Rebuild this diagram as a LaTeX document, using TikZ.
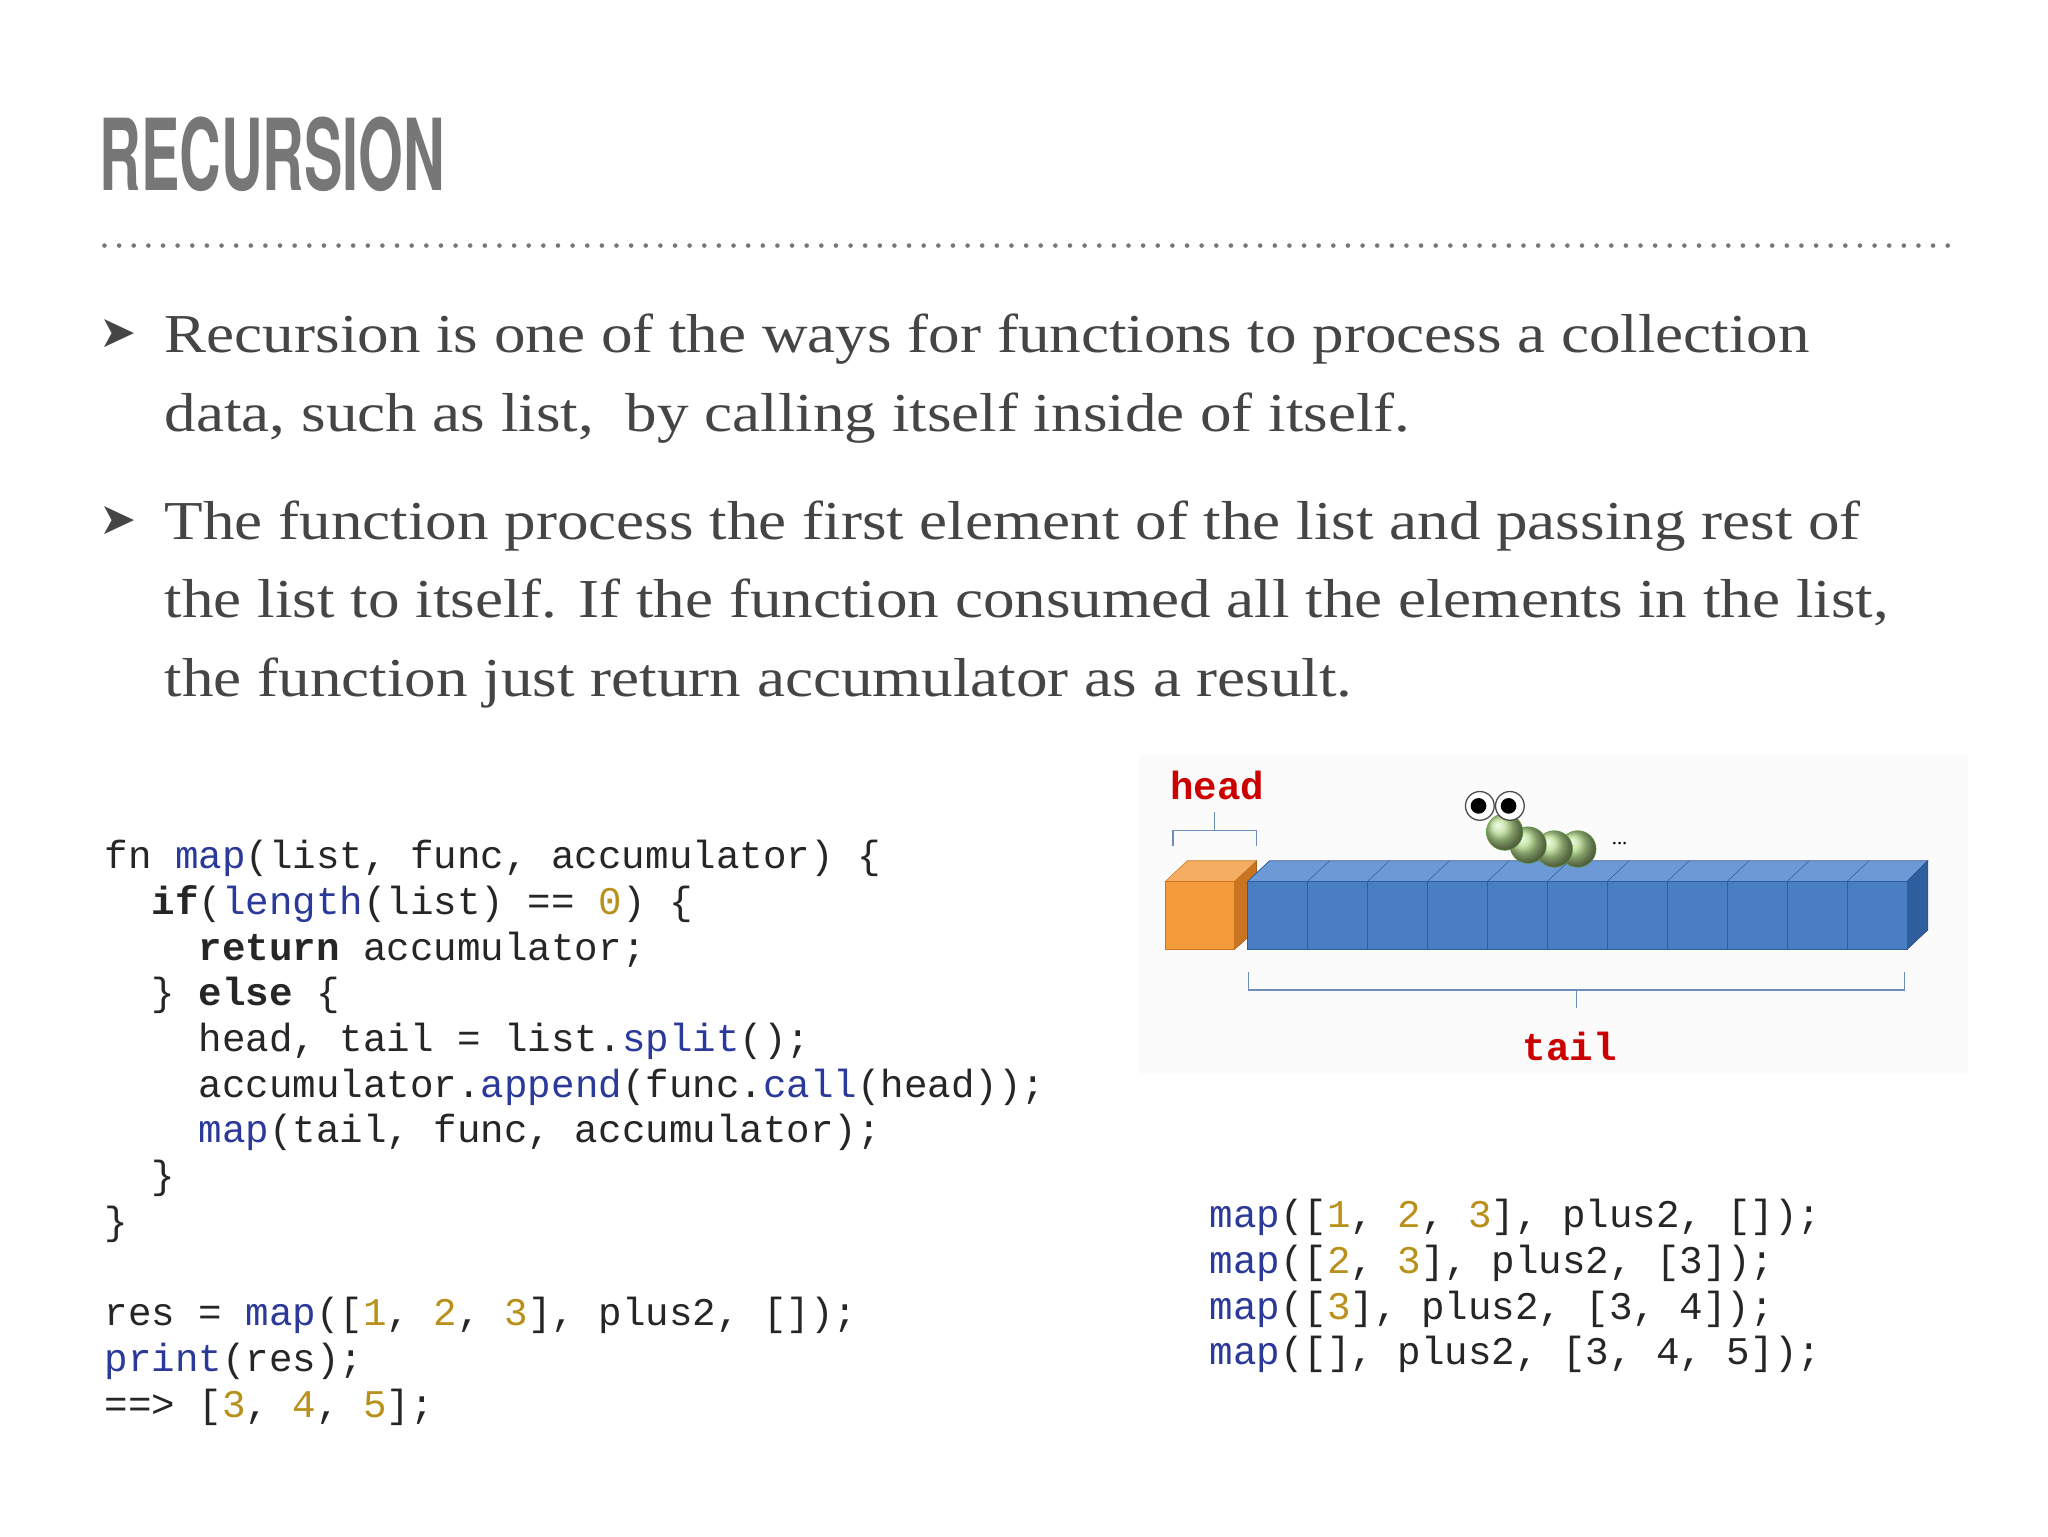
\documentclass[tikz,border=0pt]{standalone}
\usepackage{fontspec}
\setmainfont{Liberation Serif}
\setmonofont{Liberation Mono}
\newfontfamily\bodyfont[FakeStretch=1.15]{Liberation Serif}
\newfontfamily\titlefont{TeX Gyre Heros}
\newfontfamily\symfont{DejaVu Sans}
\definecolor{txt}{HTML}{454545}
\definecolor{ttl}{HTML}{777777}
\definecolor{kw}{HTML}{2B3A9A}
\definecolor{num}{HTML}{B8901A}
\definecolor{cblue}{HTML}{4A7EC2}
\definecolor{cblueD}{HTML}{2F5E9E}
\definecolor{cblueT}{HTML}{6D9AD6}
\definecolor{corg}{HTML}{F39A3A}
\definecolor{corgD}{HTML}{C97420}
\definecolor{cgrn}{HTML}{B8DC90}
\definecolor{cgrnD}{HTML}{5E9A3A}
\newcommand{\K}[1]{\textcolor{kw}{#1}}
\newcommand{\N}[1]{\textcolor{num}{#1}}
\newcommand{\B}[1]{\textbf{#1}}
\begin{document}
\begin{tikzpicture}[x=1pt,y=-1pt,
  bul/.style={anchor=base west,inner sep=0,font=\bodyfont\fontsize{42}{42}\selectfont,text=txt},
  arr/.style={anchor=base west,inner sep=0,font=\symfont\fontsize{34}{34}\selectfont,text=txt},
  code/.style={anchor=base west,inner sep=0,font=\ttfamily\fontsize{30}{30}\selectfont,text=black!85},
  lab/.style={inner sep=0,font=\ttfamily\bfseries\fontsize{30}{30}\selectfont,text=red!80!black},
  brace/.style={draw=cblueD!70,line width=1.2pt}]
\useasboundingbox (0,0) rectangle (1568,1176);
\fill[white] (0,0) rectangle (1568,1176);
\node[anchor=base west,inner sep=0,text=ttl] (title) at (76,146) {\titlefont\bfseries\fontsize{76}{76}\selectfont\scalebox{0.58}[1]{RECURSION}};
\draw[ttl,line width=3.5pt,dash pattern=on 0pt off 11.2pt,line cap=round] (80,188) -- (1492,188);
\node[arr] (a1) at (76,266) {➤};
\node[bul] (l1) at (126,270) {Recursion is one of the ways for functions to process a collection};
\node[bul] (l2) at (126,330) {data, such as list,\ \ by calling itself inside of itself.};
\node[arr] (a2) at (76,409) {➤};
\node[bul] (l3) at (126,413) {The function process the first element of the list and passing rest of};
\node[bul] (l4) at (126,473) {the list to itself. If the function consumed all the elements in the list,};
\node[bul] (l5) at (126,533) {the function just return accumulator as a result.};
% code
\node[code] (c1) at (80,665) {fn \K{map}(list, func, accumulator) \{};
\node[code] (c2) at (80,700) {\ \ \B{if}(\K{length}(list) == \N{0}) \{};
\node[code] (c3) at (80,735) {\ \ \ \ \B{return} accumulator;};
\node[code] (c4) at (80,770) {\ \ \} \B{else} \{};
\node[code] (c5) at (80,805) {\ \ \ \ head, tail = list.\K{split}();};
\node[code] (c6) at (80,840) {\ \ \ \ accumulator.\K{append}(func.\K{call}(head));};
\node[code] (c7) at (80,875) {\ \ \ \ \K{map}(tail, func, accumulator);};
\node[code] (c8) at (80,910) {\ \ \}};
\node[code] (c9) at (80,945) {\}};
\node[code] (c10) at (80,1015) {res = \K{map}([\N{1}, \N{2}, \N{3}], plus2, []);};
\node[code] (c11) at (80,1050) {\K{print}(res);};
\node[code] (c12) at (80,1085) {==> [\N{3}, \N{4}, \N{5}];};
\node[code] (r1) at (926,940) {\K{map}([\N{1}, \N{2}, \N{3}], plus2, []);};
\node[code] (r2) at (926,975) {\K{map}([\N{2}, \N{3}], plus2, [3]);};
\node[code] (r3) at (926,1010) {\K{map}([\N{3}], plus2, [3, 4]);};
\node[code] (r4) at (926,1045) {\K{map}([], plus2, [3, 4, 5]);};
% image
\fill[black!1.5] (872,578) rectangle (1507,822);
\node[lab] (head) at (932,601) {head};
\node[lab] (tail) at (1202,801) {tail};
% orange cube
\fill[corgD,draw=corgD!80!black] (945,675) -- (962,659) -- (962,712) -- (945,727) -- cycle;
\fill[corg!80!white,draw=corgD] (892,675) -- (909,659) -- (962,659) -- (945,675) -- cycle;
\fill[corg,draw=corgD] (892,675) rectangle (945,727);
% blue cells
\fill[cblueT,draw=cblueD] (955,675) -- (972,659) -- (1476,659) -- (1460,675) -- cycle;
\fill[cblueD,draw=cblueD!80!black] (1460,675) -- (1476,659) -- (1476,712) -- (1460,727) -- cycle;
\foreach \i in {0,...,10}{
  \fill[cblue,draw=cblueD] ({955+\i*45.9},675) rectangle ({955+(\i+1)*45.9},727);
  \draw[cblueD] ({955+\i*45.9},675) -- ({972+\i*45.9},659);
}
% braces
\draw[brace] (898,648) -- (898,636) -- (930,636) -- (930,622) (930,636) -- (962,636) -- (962,648);
\draw[brace] (956,744) -- (956,758) -- (1207,758) -- (1207,772) (1207,758) -- (1458,758) -- (1458,744);
% caterpillar
\foreach \x/\y in {1208/650,1190/650,1170/647,1152/637}{
  \shade[ball color=cgrn,draw=cgrnD] (\x,\y) circle (14);}
\draw[black!70,fill=white,line width=1pt] (1133,617) circle (11) (1156,617) circle (11);
\fill[black] (1132,617) circle (6) (1155,617) circle (6);
\node[inner sep=0,font=\fontsize{16}{16}\selectfont] (dots) at (1240,646) {...};
\end{tikzpicture}
\end{document}
